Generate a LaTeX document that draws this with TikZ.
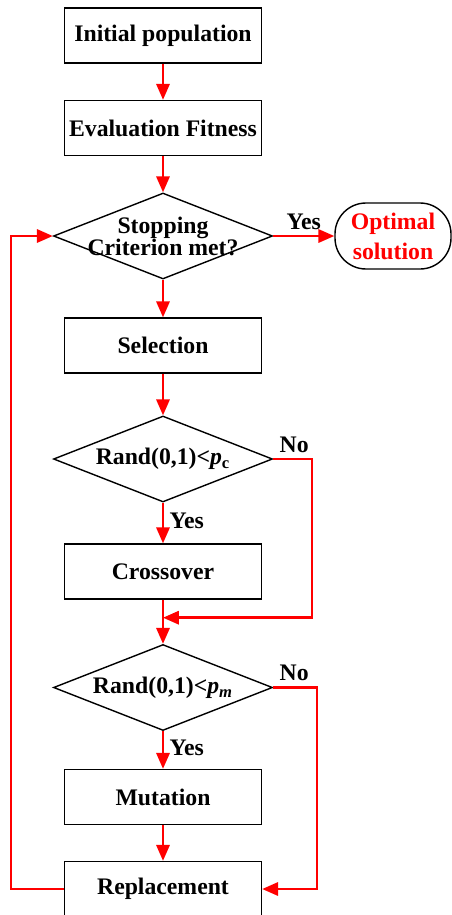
\documentclass[tikz,border=0pt]{standalone}
\usepackage{fontspec}
\setmainfont{Liberation Serif}
\usetikzlibrary{positioning,shapes.geometric,arrows.meta}
\tikzset{
  stepbox/.style={rectangle, draw, line width=0.8pt, minimum width=3.94cm, minimum height=1.1cm, inner sep=2pt},
  decision/.style={diamond, draw, line width=0.8pt, aspect=2.55, minimum width=4.38cm, minimum height=1.72cm, inner sep=0pt, align=center},
  finish/.style={rectangle, rounded corners=0.62cm, draw, line width=0.8pt, minimum width=2.32cm, minimum height=1.32cm, align=center, text=red},
  flow/.style={red, line width=1.4pt},
  lbl/.style={inner sep=3pt, text=black}
}
\begin{document}
\begin{tikzpicture}[->,>={Triangle[length=9pt,width=7.5pt]},font=\fontsize{13.5}{16}\selectfont\bfseries]
  \useasboundingbox (0,0) rectangle (9.04,-18.3);
  \node[stepbox](init) at (3.26,-0.71){Initial population};
  \node[stepbox](eval)[below of=init,node distance=1.85cm]{Evaluation Fitness};
  \node[decision,inner sep=-0.12cm](stop)[below of=eval,node distance=2.16cm]{Stopping\\[-3.5pt]Criterion met?};
  \node[finish](opt)[right of=stop,node distance=4.6cm]{Optimal\\[1pt]solution};
  \node[stepbox](sel)[below of=stop,node distance=2.19cm]{Selection};
  \node[decision](cross1)[below of=sel,node distance=2.27cm]{Rand(0,1)<\textit{p}\textsubscript{c}};
  \node[stepbox](crossover)[below of=cross1,node distance=2.25cm]{Crossover};
  \coordinate[below=0.36cm of crossover](m1);
  \node[decision](cross2)[below of=crossover,node distance=2.32cm]{Rand(0,1)<\textit{p\textsubscript{m}}};
  \node[stepbox](mut)[below of=cross2,node distance=2.19cm]{Mutation};
  \node[stepbox](rep)[below of=mut,node distance=1.84cm]{Replacement};
  % main flow
  \path[flow] (init) edge (eval);
  \path[flow] (eval) edge (stop);
  \path[flow] (stop) edge node[above,lbl]{Yes} (opt);
  \path[flow] (stop) edge (sel);
  \path[flow] (sel) edge (cross1);
  \path[flow] (cross1) edge node[right,lbl,pos=0.45]{Yes} (crossover);
  \path[flow] (crossover) edge (cross2);
  \path[flow] (cross2) edge node[right,lbl,pos=0.45]{Yes} (mut);
  \path[flow] (mut) edge (rep);
  % no branches and loop
  \draw[flow] (cross1.east) node[above right,lbl]{No} -- ++(0.78,0) |- (m1);
  \draw[flow] (cross2.east) node[above right,lbl]{No} -- ++(0.88,0) |- (rep.east);
  \draw[flow] (rep.west) -- ++(-1.06,0) |- (stop.west);
\end{tikzpicture}
\end{document}
